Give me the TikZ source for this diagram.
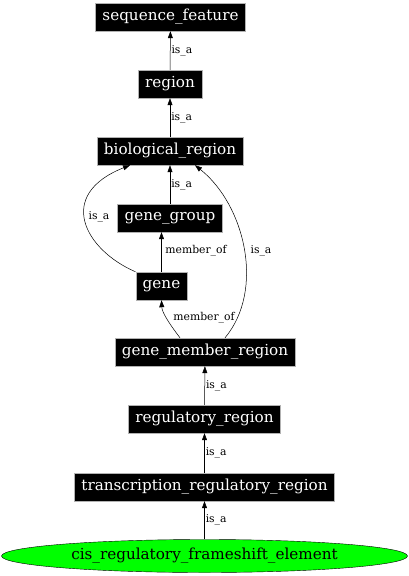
\documentclass[tikz,border=0pt]{standalone}
\usepackage{fontspec}
\setmainfont{DejaVu Serif}
\usetikzlibrary{arrows.meta,shapes.geometric}
\begin{document}
\begin{tikzpicture}[x=1pt,y=-1pt,
  term/.style={rectangle,fill=black,draw=gray!60,text=white,font=\fontsize{15.2}{17}\selectfont,minimum height=28pt,inner xsep=7pt},
  leaf/.style={ellipse,fill=green,draw=black,font=\fontsize{15.2}{17}\selectfont,minimum width=406pt,minimum height=33pt,inner sep=0pt},
  rel/.style={-{Triangle[length=7pt,width=5pt]},black,line width=0.5pt},
  lab/.style={font=\fontsize{10.8}{12}\selectfont,inner sep=1pt}]
\useasboundingbox (0,0) rectangle (409,576);
\node[term] (sf) at (170.5,17) {sequence\_feature};
\node[term] (reg) at (170,84) {region};
\node[term] (bio) at (170,151) {biological\_region};
\node[term] (gg) at (170,218) {gene\_group};
\node[term] (gene) at (161.5,286) {gene};
\node[term] (gmr) at (205,352) {gene\_member\_region};
\node[term] (rr) at (204.5,419) {regulatory\_region};
\node[term] (trr) at (204.5,487) {transcription\_regulatory\_region};
\node[leaf] (cis) at (204.5,556) {cis\_regulatory\_frameshift\_element};

\draw[rel] (reg) -- (sf) node[lab,midway,right] {is\_a};
\draw[rel] (bio) -- (reg) node[lab,midway,right] {is\_a};
\draw[rel] (gg) -- (bio) node[lab,midway,right] {is\_a};
\draw[rel] (gene.north west) .. controls (85,250) and (55,195) .. ([xshift=-40pt]bio.south);
\node[lab] (l1) at (99,217) {is\_a};
\draw[rel] (gene.north) -- (gene.north |- gg.south);
\node[lab] (l2) at (196,251) {member\_of};
\draw[rel] ([xshift=-25pt]gmr.north) .. controls (168,322) and (162,312) .. (gene.south);
\node[lab] (l3) at (204,318) {member\_of};
\draw[rel] ([xshift=20pt]gmr.north) .. controls (265,290) and (245,205) .. ([xshift=25pt]bio.south);
\node[lab] (l4) at (261,251) {is\_a};
\draw[rel] (rr) -- (gmr) node[lab,midway,right] {is\_a};
\draw[rel] (trr) -- (rr) node[lab,midway,right] {is\_a};
\draw[rel] (cis) -- (trr) node[lab,midway,right] {is\_a};
\end{tikzpicture}
\end{document}
